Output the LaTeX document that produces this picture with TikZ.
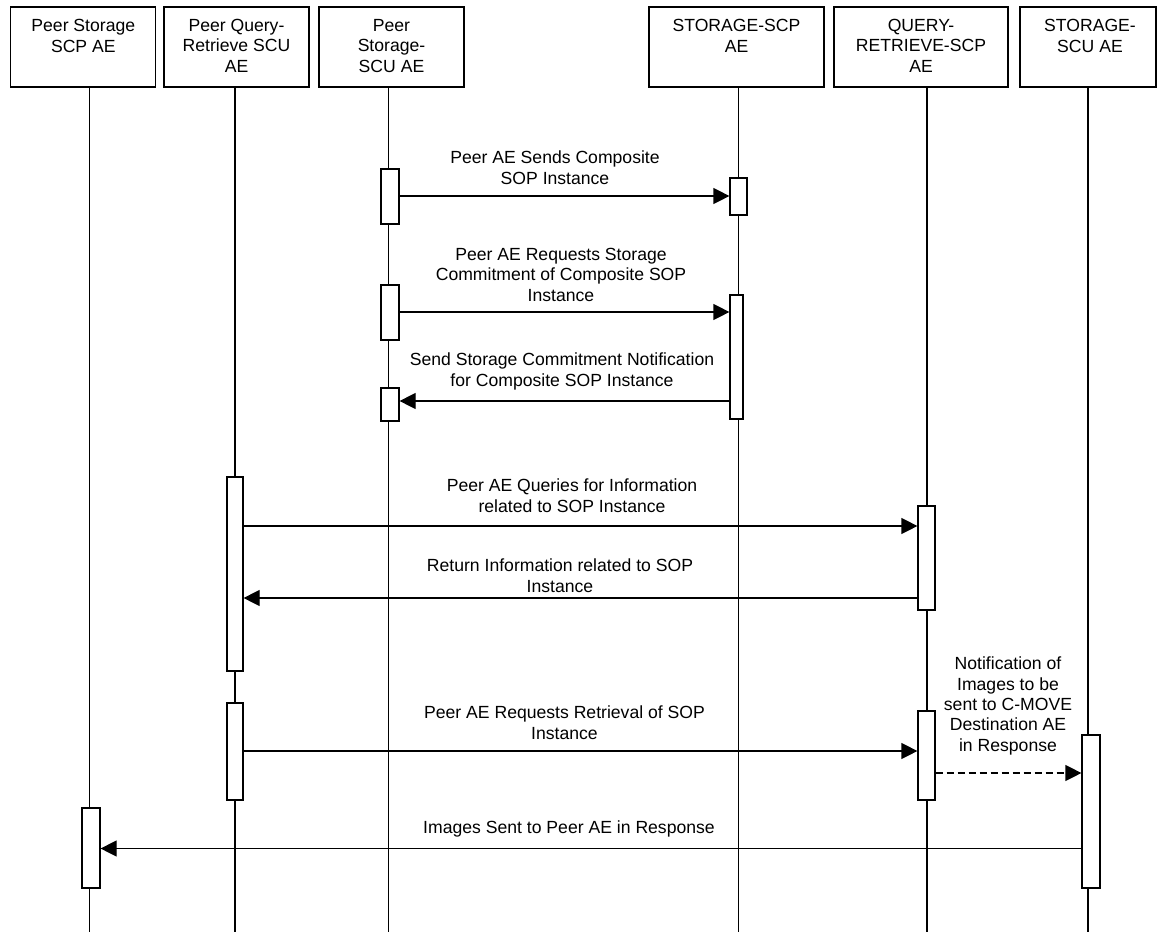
\documentclass[tikz,border=0pt]{standalone}
\usepackage{fontspec}
\setmainfont{Liberation Sans}
\usetikzlibrary{arrows.meta}
\newcommand{\ml}[1]{\begin{tabular}[b]{@{}c@{}}#1\end{tabular}}
\tikzset{
  hdr/.style={draw=black, line width=1.2pt, fill=white, inner sep=0pt, minimum height=80pt},
  txt/.style={inner sep=0pt, anchor=base, font=\fontsize{17.6}{20.3}\selectfont},
  life/.style={draw=black, line width=1.2pt},
  act/.style={draw=black, line width=1.2pt, fill=white, inner sep=0pt},
  msg/.style={draw=black, line width=1.2pt, -{Triangle[length=16pt,width=16pt]}},
  dmsg/.style={msg, dash pattern=on 7pt off 4pt}
}
\begin{document}
\begin{tikzpicture}[x=1pt,y=-1pt]
\useasboundingbox (0,0) rectangle (1157,932);
% headers
\node[hdr, minimum width=145pt] (h1) at (83.3,47) {};
\node[hdr, minimum width=145pt] (h2) at (236.5,47) {};
\node[hdr, minimum width=145pt] (h3) at (391.5,47) {};
\node[hdr, minimum width=175pt] (h4) at (736.5,47) {};
\node[hdr, minimum width=174pt] (h5) at (921,47) {};
\node[hdr, minimum width=136pt] (h6) at (1088,47) {};
\node[txt] (t1) at (83.3,52) {\ml{Peer Storage\\SCP AE}};
\node[txt] (t2) at (236.5,72) {\ml{Peer Query-\\Retrieve SCU\\AE}};
\node[txt] (t3) at (391.5,72) {\ml{Peer\\Storage-\\SCU AE}};
\node[txt] (t4) at (736.5,52) {\ml{STORAGE-SCP\\AE}};
\node[txt] (t5) at (921,72) {\ml{QUERY-\\RETRIEVE-SCP\\AE}};
\node[txt] (t6) at (1090,52) {\ml{STORAGE-\\SCU AE}};
% lifeline ends
\coordinate (e1) at (89.5,932);
\coordinate (e2) at (235,932);
\coordinate (e3) at (388.5,932);
\coordinate (e4) at (738.7,932);
\coordinate (e5) at (927,932);
\coordinate (e6) at (1088,932);
\draw[life] (h1.south -| e1) -- (e1);
\draw[life] (h2.south -| e2) -- (e2);
\draw[life] (h3.south -| e3) -- (e3);
\draw[life] (h4.south -| e4) -- (e4);
\draw[life] (h5.south -| e5) -- (e5);
\draw[life] (h6.south -| e6) -- (e6);
% activations
\node[act, minimum width=18pt, minimum height=80pt] (a11) at (91,848) {};
\node[act, minimum width=16pt, minimum height=194pt] (a21) at (235,574) {};
\node[act, minimum width=16pt, minimum height=97pt] (a22) at (235,751.5) {};
\node[act, minimum width=18pt, minimum height=55pt] (a31) at (390,196.5) {};
\node[act, minimum width=18pt, minimum height=55pt] (a32) at (390,312.5) {};
\node[act, minimum width=18pt, minimum height=33pt] (a33) at (390,404.5) {};
\node[act, minimum width=17pt, minimum height=37pt] (a41) at (738.5,196.5) {};
\node[act, minimum width=13pt, minimum height=124pt] (a42) at (736.5,357) {};
\node[act, minimum width=17pt, minimum height=104pt] (a51) at (926.5,558) {};
\node[act, minimum width=17pt, minimum height=89pt] (a52) at (926.5,755.5) {};
\node[act, minimum width=18pt, minimum height=153pt] (a61) at (1091,811.5) {};
% messages
\draw[msg] (a31.east |- 0,196) -- (a41.west |- 0,196);
\draw[msg] (a32.east |- 0,312) -- (a42.west |- 0,312);
\draw[msg] (a42.west |- 0,401) -- (a33.east |- 0,401);
\draw[msg] (a21.east |- 0,526) -- (a51.west |- 0,526);
\draw[msg] (a51.west |- 0,598) -- (a21.east |- 0,598);
\draw[msg] (a22.east |- 0,751) -- (a52.west |- 0,751);
\draw[dmsg] (a52.east |- 0,773) -- (a61.west |- 0,773);
\draw[msg] (a61.west |- 0,848.5) -- (a11.east |- 0,848.5);
% labels
\node[txt] (l1) at (555,184) {\ml{Peer AE Sends Composite\\SOP Instance}};
\node[txt] (l2) at (561,301) {\ml{Peer AE Requests Storage\\Commitment of Composite SOP\\Instance}};
\node[txt] (l3) at (562,386) {\ml{Send Storage Commitment Notification\\for Composite SOP Instance}};
\node[txt] (l4) at (572,512) {\ml{Peer AE Queries for Information\\related to SOP Instance}};
\node[txt] (l5) at (560,592) {\ml{Return Information related to SOP\\Instance}};
\node[txt] (l6) at (564.5,739) {\ml{Peer AE Requests Retrieval of SOP\\Instance}};
\node[txt] (l7) at (1008,751) {\ml{Notification of\\Images to be\\sent to C-MOVE\\Destination AE\\in Response}};
\node[txt] (l8) at (569,833) {Images Sent to Peer AE in Response};
\end{tikzpicture}
\end{document}
